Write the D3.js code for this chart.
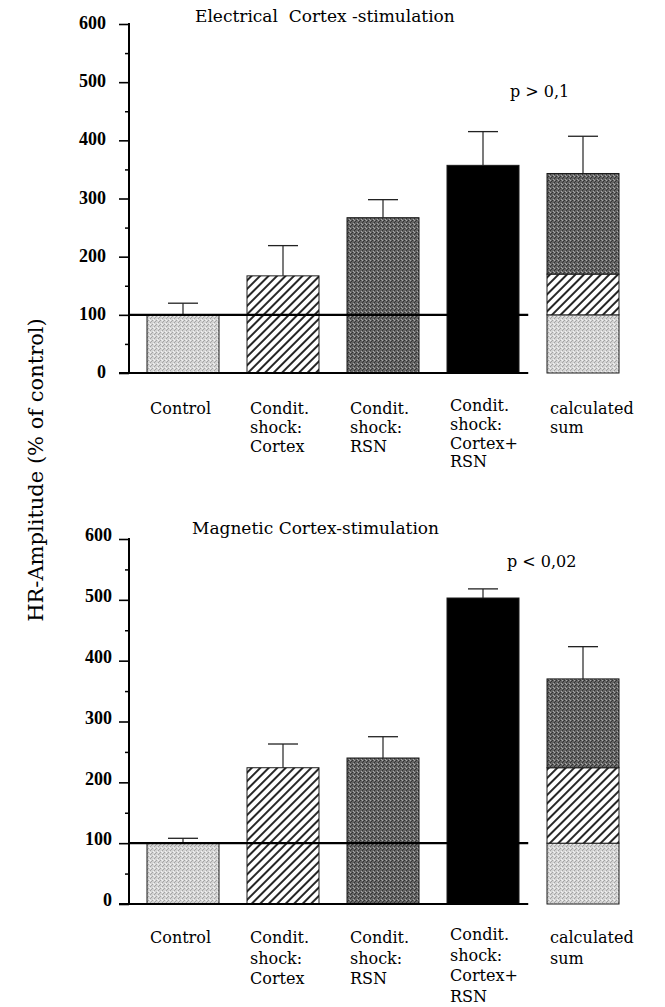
<!DOCTYPE html>
<html><head><meta charset="utf-8">
<script src="https://cdn.jsdelivr.net/npm/d3@7"></script>
<style>body{margin:0;background:#fff}svg{display:block}</style>
</head><body><svg id="c" width="665" height="1007"></svg>
<script>
// ---- data ----
const categories = ["Control", "Condit. shock: Cortex", "Condit. shock: RSN", "Condit. shock: Cortex+RSN", "calculated sum"];
const categoryLabels = [["Control"], ["Condit.", "shock:", "Cortex"], ["Condit.", "shock:", "RSN"], ["Condit.", "shock:", "Cortex+", "RSN"], ["calculated", "sum"]];
const yTicks = [0, 100, 200, 300, 400, 500, 600];
const yMinorTicks = [50, 150, 250, 350, 450, 550];
const electricalMeans = [100, 167, 267, 357];
const electricalErrors = [20, 52, 31, 58];
const electricalSumParts = [100, 70, 173];
const electricalSumError = 64;
const magneticMeans = [100, 224, 240, 503];
const magneticErrors = [8, 39, 35, 15];
const magneticSumParts = [100, 124, 146];
const magneticSumError = 53;
const panelTitles = ["Electrical  Cortex -stimulation", "Magnetic Cortex-stimulation"];
const pValues = ["p > 0,1", "p < 0,02"];
const yTitle = "HR-Amplitude (% of control)";
const referenceValue = 100;
const barFills = ["light", "hatch", "dark", "black"];
const sumFills = ["light", "hatch", "dark"];

// ---- setup ----
const svg = d3.select("#c");
svg.append("rect").attr("width", 665).attr("height", 1007).attr("fill", "#fff");
const defs = svg.append("defs");
const textFont = "'DejaVu Serif', serif";
const tickFont = "'Liberation Serif', serif";

function stipple(id, base, dark, light) {
  const p = defs.append("pattern").attr("id", id).attr("width", 4).attr("height", 4)
    .attr("patternUnits", "userSpaceOnUse");
  p.append("rect").attr("width", 4).attr("height", 4).attr("fill", base);
  [[0, 0], [2, 2], [3, 1]].forEach(([a, b]) => p.append("rect").attr("x", a).attr("y", b).attr("width", 1).attr("height", 1).attr("fill", dark));
  [[1, 3], [2, 0]].forEach(([a, b]) => p.append("rect").attr("x", a).attr("y", b).attr("width", 1).attr("height", 1).attr("fill", light));
}
stipple("light", "#d4d4d4", "#a4a4a4", "#f2f2f2");
stipple("dark", "#646464", "#333333", "#a8a8a8");
const hp = defs.append("pattern").attr("id", "hatch").attr("width", 6).attr("height", 6)
  .attr("patternUnits", "userSpaceOnUse").attr("patternTransform", "rotate(45)");
hp.append("rect").attr("width", 6).attr("height", 6).attr("fill", "#fff");
hp.append("line").attr("x1", 1).attr("y1", 0).attr("x2", 1).attr("y2", 6).attr("stroke", "#000").attr("stroke-width", 1.7);
defs.append("pattern").attr("id", "black").attr("width", 4).attr("height", 4)
  .attr("patternUnits", "userSpaceOnUse").append("rect").attr("width", 4).attr("height", 4).attr("fill", "#000");

const axisX = 129;
const x = d3.scaleBand().domain(categories).range([119, 647]).paddingInner(0.28).paddingOuter(0.28);
const labelX = d3.scaleBand().domain(categories).range([119, 647]).paddingInner(0.28).paddingOuter(0.28);
const step = x.step(), bw = x.bandwidth();
const lineEnd = x(categories[3]) + bw + (step - bw) * 0.33;

function drawPanel(cfg) {
  const y = d3.scaleLinear().domain([0, 600]).range([cfg.y0, cfg.y600]);
  const g = svg.append("g");

  const bars = cfg.means.map((v, i) => ({ cat: categories[i], v, e: cfg.errors[i], fill: barFills[i] }));
  g.selectAll("rect.bar").data(bars).join("rect").attr("class", "bar")
    .attr("x", d => x(d.cat)).attr("y", d => y(d.v))
    .attr("width", bw).attr("height", d => y(0) - y(d.v))
    .attr("fill", d => `url(#${d.fill})`).attr("stroke", "#1a1a1a").attr("stroke-width", 1);

  let acc = 0;
  const stack = cfg.sumParts.map((v, i) => { const s = { lo: acc, hi: acc + v, fill: sumFills[i] }; acc += v; return s; });
  g.selectAll("rect.sum").data(stack).join("rect").attr("class", "sum")
    .attr("x", x(categories[4])).attr("y", d => y(d.hi))
    .attr("width", bw).attr("height", d => y(d.lo) - y(d.hi))
    .attr("fill", d => `url(#${d.fill})`).attr("stroke", "#1a1a1a").attr("stroke-width", 1);

  const errs = bars.map(d => ({ cat: d.cat, v: d.v, e: d.e })).concat([{ cat: categories[4], v: acc, e: cfg.sumError }]);
  const eg = g.selectAll("g.err").data(errs).join("g").attr("class", "err");
  eg.append("line").attr("x1", d => x(d.cat) + bw / 2).attr("x2", d => x(d.cat) + bw / 2)
    .attr("y1", d => y(d.v)).attr("y2", d => y(d.v + d.e)).attr("stroke", "#222").attr("stroke-width", 1.2);
  eg.append("line").attr("x1", d => x(d.cat) + bw / 2 - 15).attr("x2", d => x(d.cat) + bw / 2 + 15)
    .attr("y1", d => y(d.v + d.e)).attr("y2", d => y(d.v + d.e)).attr("stroke", "#222").attr("stroke-width", 1.3);

  // reference line and baseline
  g.append("line").attr("x1", axisX).attr("x2", lineEnd).attr("y1", y(referenceValue)).attr("y2", y(referenceValue))
    .attr("stroke", "#000").attr("stroke-width", 2.2);
  g.append("line").attr("x1", axisX - 10).attr("x2", lineEnd).attr("y1", y(0)).attr("y2", y(0))
    .attr("stroke", "#000").attr("stroke-width", 2);

  // y axis
  const ax = g.append("g").attr("transform", `translate(${axisX},0)`)
    .call(d3.axisLeft(y).tickValues(yTicks).tickSize(10).tickPadding(cfg.pad).tickSizeOuter(0));
  ax.select(".domain").remove();
  ax.selectAll(".tick line").attr("stroke", "#000").attr("stroke-width", 1.6);
  ax.selectAll(".tick text").attr("font-family", tickFont).attr("font-weight", "bold")
    .attr("font-size", 18).attr("fill", "#000").attr("dy", cfg.tdy);
  const mx = g.append("g").attr("transform", `translate(${axisX},0)`)
    .call(d3.axisLeft(y).tickValues(yMinorTicks).tickSize(4).tickFormat("").tickSizeOuter(0));
  mx.select(".domain").remove();
  mx.selectAll(".tick line").attr("stroke", "#000").attr("stroke-width", 1.5);
  g.append("line").attr("x1", axisX).attr("x2", axisX).attr("y1", y(600) - 1).attr("y2", y(0) + 1)
    .attr("stroke", "#000").attr("stroke-width", 2);

  // titles
  g.append("text").attr("x", cfg.titleX).attr("y", cfg.titleY).text(cfg.title)
    .attr("font-family", textFont).attr("font-size", 17).style("white-space", "pre").attr("fill", "#000");
  g.append("text").attr("x", cfg.pX).attr("y", cfg.pY).text(cfg.p)
    .attr("font-family", textFont).attr("font-size", 16).attr("fill", "#000");

  // category labels
  const lg = g.selectAll("text.cat").data(categories).join("text").attr("class", "cat")
    .attr("font-family", textFont).attr("font-size", 16).attr("fill", "#000")
    .attr("transform", (d, i) => `translate(${labelX(d) + 3},${cfg.labelY - (categoryLabels[i].length === 4 ? 3 : 0)})`);
  lg.selectAll("tspan").data((d, i) => categoryLabels[i]).join("tspan")
    .attr("x", 0).attr("y", (d, j) => j * cfg.lineGap).text(d => d);
}

drawPanel({ y0: 373, y600: 24, means: electricalMeans, errors: electricalErrors, sumParts: electricalSumParts,
  sumError: electricalSumError, title: panelTitles[0], p: pValues[0], titleX: 195, titleY: 22, pX: 510, pY: 97,
  labelY: 414, lineGap: 18.8, pad: 13, tdy: "0.25em" });
drawPanel({ y0: 904, y600: 539, means: magneticMeans, errors: magneticErrors, sumParts: magneticSumParts,
  sumError: magneticSumError, title: panelTitles[1], p: pValues[1], titleX: 192, titleY: 534, pX: 507, pY: 567,
  labelY: 943, lineGap: 20.5, pad: 7, tdy: "0.1em" });

svg.append("text").attr("transform", "translate(43,470) rotate(-90)").attr("text-anchor", "middle")
  .attr("font-family", textFont).attr("font-size", 21).attr("fill", "#000").text(yTitle);
</script></body></html>
